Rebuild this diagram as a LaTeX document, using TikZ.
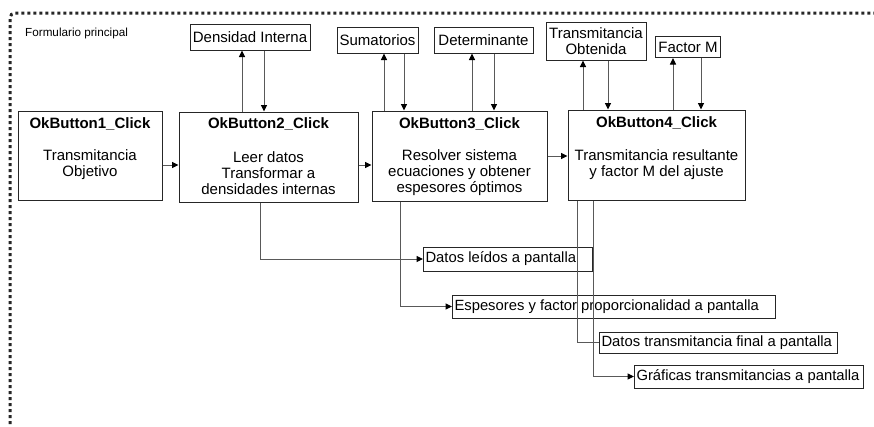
\documentclass[tikz,border=0pt]{standalone}
\usepackage{fontspec}
\setmainfont{Liberation Sans}
\usetikzlibrary{arrows.meta}
\begin{document}
\begin{tikzpicture}[x=1pt,y=-1pt,
  box/.style={draw=black!85, line width=1pt, inner sep=0pt},
  tbox/.style={draw=black!85, line width=1pt, inner sep=1pt, align=center, font=\fontsize{15}{16}\selectfont},
  obox/.style={draw=black!85, line width=1pt, inner xsep=2pt, inner ysep=0pt, anchor=west, font=\fontsize{14.8}{16}\selectfont},
  title/.style={inner sep=0pt, font=\fontsize{15}{16}\selectfont\bfseries},
  body/.style={inner sep=0pt, align=center, font=\fontsize{15}{16}\selectfont},
  conn/.style={draw=black!65, line width=1pt},
  arr/.style={conn, -{Triangle[length=6.5pt,width=6pt,color=black]}}
]
\useasboundingbox (0,0) rectangle (874,426);
% dotted frame
\draw[line width=3pt, dash pattern=on 3pt off 3pt, black!85, rounded corners=5pt]
  (10,424) -- (10,13) -- (874,13);
\node[anchor=base west, inner sep=0pt, font=\fontsize{11.7}{13}\selectfont] (form) at (25,36) {Formulario principal};

% main boxes
\node[box, minimum width=144pt, minimum height=89pt] (b1) at (90,155.5) {};
\node[box, minimum width=179pt, minimum height=90pt] (b2) at (268.5,157) {};
\node[box, minimum width=175pt, minimum height=90pt] (b3) at (459.5,156) {};
\node[box, minimum width=177pt, minimum height=90pt] (b4) at (656.5,155) {};

\node[title] (b1t) at (90,124) {OkButton1\_Click};
\node[title] (b2t) at (268.5,124) {OkButton2\_Click};
\node[title] (b3t) at (459.5,124) {OkButton3\_Click};
\node[title] (b4t) at (656.5,123) {OkButton4\_Click};

\node[body] (b1b) at (90,165) {Transmitancia\\Objetivo};
\node[body] (b2b) at (268.5,173) {Leer datos\\Transformar a\\densidades internas};
\node[body] (b3b) at (459.5,173) {Resolver sistema\\ecuaciones y obtener\\espesores óptimos};
\node[body] (b4b) at (656.5,165) {Transmitancia resultante\\y factor M del ajuste};

% top boxes
\node[tbox, minimum width=120pt, minimum height=26pt] (dens) at (250,37) {Densidad Interna};
\node[tbox, minimum width=81pt, minimum height=26pt] (sum) at (377.5,40) {Sumatorios};
\node[tbox, minimum width=99pt, minimum height=26pt] (det) at (483.5,40) {Determinante};
\node[tbox, minimum width=100pt, minimum height=38pt] (tob) at (596,41) {Transmitancia\\Obtenida};
\node[tbox, minimum width=65pt, minimum height=21pt] (fm) at (688,47) {Factor M};

% bottom boxes
\node[obox, minimum width=169pt, minimum height=24pt] (dl) at (423,259) {\makebox[165pt][l]{Datos leídos a pantalla}};
\node[obox, minimum width=323pt, minimum height=23pt] (esp) at (452,306.5) {\makebox[319pt][l]{Espesores y factor proporcionalidad a pantalla}};
\node[obox, minimum width=238pt, minimum height=21pt] (dtf) at (599,342.5) {\makebox[234pt][l]{Datos transmitancia final a pantalla}};
\node[obox, minimum width=229pt, minimum height=23pt] (gr) at (634,376.5) {\makebox[225pt][l]{Gráficas transmitancias a pantalla}};

% horizontal flow
\draw[arr] (b1.east |- 0,165) -- (b2.west |- 0,165);
\draw[arr] (b2.east |- 0,165) -- (b3.west |- 0,165);
\draw[arr] (b3.east |- 0,156) -- (b4.west |- 0,156);

% up / down
\draw[arr] (b2.north -| 242,0) -- (dens.south -| 242,0);
\draw[arr] (dens.south -| 264,0) -- (b2.north -| 264,0);
\draw[arr] (b3.north -| 384,0) -- (sum.south -| 384,0);
\draw[arr] (sum.south -| 404,0) -- (b3.north -| 404,0);
\draw[arr] (b3.north -| 472,0) -- (det.south -| 472,0);
\draw[arr] (det.south -| 494,0) -- (b3.north -| 494,0);
\draw[arr] (b4.north -| 583,0) -- (tob.south -| 583,0);
\draw[arr] (tob.south -| 608,0) -- (b4.north -| 608,0);
\draw[arr] (b4.north -| 673,0) -- (fm.south -| 673,0);
\draw[arr] (fm.south -| 701,0) -- (b4.north -| 701,0);

% outputs
\draw[arr] (b2.south -| 260,0) |- (dl.west);
\draw[arr] (b3.south -| 400,0) |- (esp.west);
\draw[conn] (b4.south -| 577,0) |- (dtf.west);
\draw[arr] (b4.south -| 593,0) |- (gr.west);
\end{tikzpicture}
\end{document}
